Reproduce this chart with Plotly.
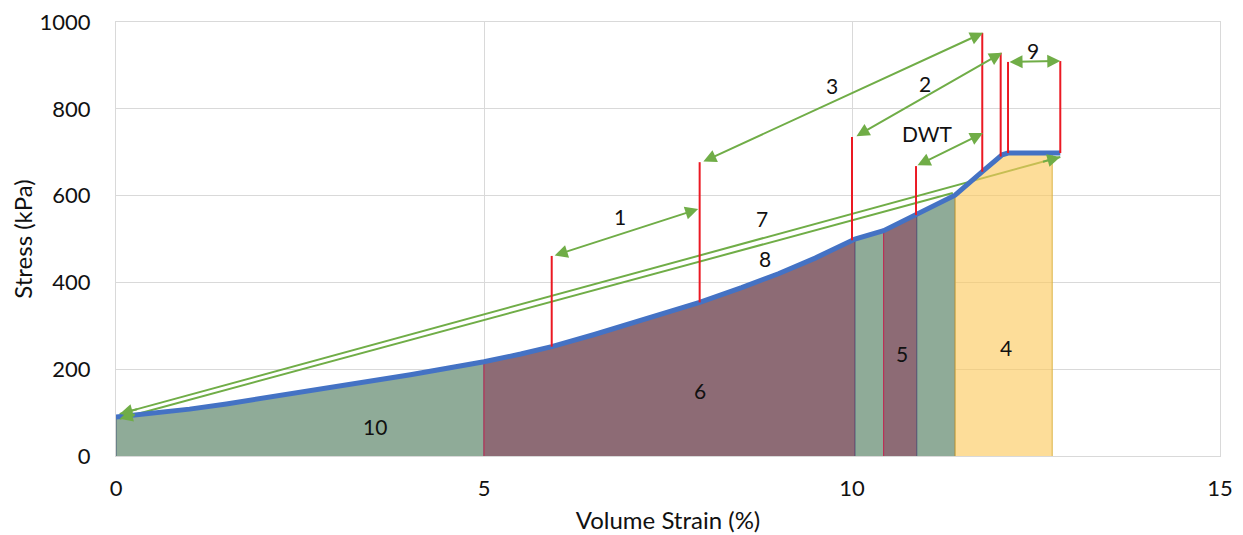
import plotly.graph_objects as go

# ---- data ----
strain = [0, 0.5, 1, 1.5, 2, 2.5, 3, 3.5, 4, 4.5, 5, 5.5, 5.92, 6.5, 7, 7.5, 7.93, 8.5, 9, 9.5, 10.0,
          10.04, 10.43, 10.88, 11.4, 11.77, 12.04, 12.12, 12.72, 12.83]
stress = [90, 99, 108, 120, 133, 146, 159, 173, 187, 202, 217, 235, 252, 280, 305, 331, 354, 388, 420, 456, 497,
          500, 519, 556, 601, 655, 694, 698, 698, 698]

region_start = [0, 5.0, 10.04, 10.43, 10.88, 11.4]
region_end = [5.0, 10.04, 10.43, 10.88, 11.4, 12.72]
region_kind = ["green", "maroon", "green", "maroon", "green", "yellow"]

red_x = [5.92, 7.93, 10.0, 10.87, 11.77, 12.02, 12.12, 12.83]
red_bottom = [252, 354, 497, 555, 655, 690, 698, 698]
red_top = [461, 677, 735, 668, 975, 929, 908, 910]

# double-headed dimension arrows: (x0, y0, x1, y1)
arrow_names = ["1", "3", "2", "DWT", "9"]
arrow_x0 = [5.94, 7.96, 10.04, 10.87, 12.12]
arrow_y0 = [461, 677, 735, 668, 908]
arrow_x1 = [7.91, 11.78, 12.04, 11.78, 12.83]
arrow_y1 = [569, 975, 929, 744, 910]

# long lines 7 and 8 from the origin
long_names = ["7", "8"]
long_x0 = [0.05, 0.05]
long_y0 = [97, 86]
long_x1 = [12.83, 11.37]
long_y1 = [689, 606]
long_end_head = [True, False]

label_text = ["1", "3", "2", "DWT", "9", "7", "8", "6", "10", "5", "4"]
label_x = [6.85, 9.73, 10.99, 11.02, 12.46, 8.78, 8.82, 7.93, 3.52, 10.68, 12.09]
label_y = [551, 853, 859, 744, 935, 548, 454, 152, 67, 237, 251]

x_ticks = [0, 5, 10, 15]
y_ticks = [0, 200, 400, 600, 800, 1000]

# ---- styles ----
FILL = {"green": "rgb(143,171,152)", "maroon": "rgb(141,107,117)", "yellow": "rgb(253,218,143)"}
EDGE = {"green": "rgb(70,90,120)", "maroon": "rgb(200,40,80)", "yellow": "rgb(220,180,70)"}
GREEN_LINE = "#70AD47"
FONT = "Lato, Calibri, 'Noto Sans', sans-serif"

fig = go.Figure()


def region_trace(lo, hi, kind):
    xs = [lo] + [x for x in strain if lo <= x <= hi] + [hi]
    ys = [0] + [y for x, y in zip(strain, stress) if lo <= x <= hi] + [0]
    return go.Scatter(x=xs, y=ys, mode="lines", fill="toself", fillcolor=FILL[kind],
                      line=dict(color=EDGE[kind], width=1), hoverinfo="skip", showlegend=False)


# green and maroon regions
for lo, hi, kind in zip(region_start, region_end, region_kind):
    if kind != "yellow":
        fig.add_trace(region_trace(lo, hi, kind))

# long green lines 7 and 8
for x0, y0, x1, y1 in zip(long_x0, long_y0, long_x1, long_y1):
    fig.add_trace(go.Scatter(x=[x0, x1], y=[y0, y1], mode="lines",
                             line=dict(color=GREEN_LINE, width=2), hoverinfo="skip", showlegend=False))

# yellow region drawn semi-transparent over the lines
for lo, hi, kind in zip(region_start, region_end, region_kind):
    if kind == "yellow":
        t = region_trace(lo, hi, kind)
        t.fillcolor = "rgba(252,200,90,0.62)"
        fig.add_trace(t)

# blue stress-strain curve
fig.add_trace(go.Scatter(x=strain, y=stress, mode="lines",
                         line=dict(color="#4472C4", width=5), hoverinfo="skip", showlegend=False))

# red vertical markers
rx, ry = [], []
for x, b, t in zip(red_x, red_bottom, red_top):
    rx += [x, x, None]
    ry += [b, t, None]
fig.add_trace(go.Scatter(x=rx, y=ry, mode="lines", line=dict(color="rgb(235,25,35)", width=2),
                         hoverinfo="skip", showlegend=False))

annotations = []
for x0, y0, x1, y1 in zip(arrow_x0, arrow_y0, arrow_x1, arrow_y1):
    annotations.append(dict(x=x1, y=y1, ax=x0, ay=y0, xref="x", yref="y", axref="x", ayref="y",
                            text="", showarrow=True, arrowside="end+start", arrowhead=2, startarrowhead=2,
                            arrowsize=1.3, startarrowsize=1.3, arrowwidth=2, arrowcolor=GREEN_LINE,
                            standoff=0, startstandoff=0))

# arrowheads on the long lines (short arrows along the line direction)
for x0, y0, x1, y1, endhead in zip(long_x0, long_y0, long_x1, long_y1, long_end_head):
    f = 0.02
    annotations.append(dict(x=x0, y=y0, ax=x0 + f * (x1 - x0), ay=y0 + f * (y1 - y0),
                            xref="x", yref="y", axref="x", ayref="y", text="", showarrow=True,
                            arrowhead=2, arrowsize=1.3, arrowwidth=2, arrowcolor=GREEN_LINE, standoff=0))
    if endhead:
        annotations.append(dict(x=x1, y=y1, ax=x1 - f * (x1 - x0), ay=y1 - f * (y1 - y0),
                                xref="x", yref="y", axref="x", ayref="y", text="", showarrow=True,
                                arrowhead=2, arrowsize=1.3, arrowwidth=2, arrowcolor=GREEN_LINE, standoff=0))

for t, x, y in zip(label_text, label_x, label_y):
    annotations.append(dict(x=x, y=y, xref="x", yref="y", text=t, showarrow=False,
                            font=dict(family=FONT, size=21, color="#111111")))

# the page body adds an 8px offset, so the figure is sized to fit the 1243x535 window
fig.update_layout(
    width=1235, height=527,
    margin=dict(l=108, r=23, t=14, b=79),
    paper_bgcolor="white", plot_bgcolor="white",
    font=dict(family=FONT, size=22, color="#111111"),
    annotations=annotations,
    showlegend=False,
)
fig.update_xaxes(range=[0, 15], tickvals=x_ticks, ticktext=[str(v) for v in x_ticks],
                 showgrid=True, gridcolor="#D9D9D9", gridwidth=1, zeroline=False,
                 showline=True, linecolor="#D9D9D9", mirror=True, automargin=False,
                 ticklabeloverflow="allow",
                 ticks="outside", ticklen=13, tickcolor="rgba(0,0,0,0)",
                 title=dict(text="Volume Strain (%)", font=dict(family=FONT, size=24), standoff=11))
fig.update_yaxes(range=[0, 1000], tickvals=y_ticks, ticktext=[str(v) for v in y_ticks],
                 showgrid=True, gridcolor="#D9D9D9", gridwidth=1, zeroline=False,
                 showline=True, linecolor="#D9D9D9", mirror=True, automargin=False,
                 ticklabeloverflow="allow",
                 ticks="outside", ticklen=20, tickcolor="rgba(0,0,0,0)",
                 title=dict(text="Stress (kPa)", font=dict(family=FONT, size=24), standoff=13))

fig.write_html("out.html")
